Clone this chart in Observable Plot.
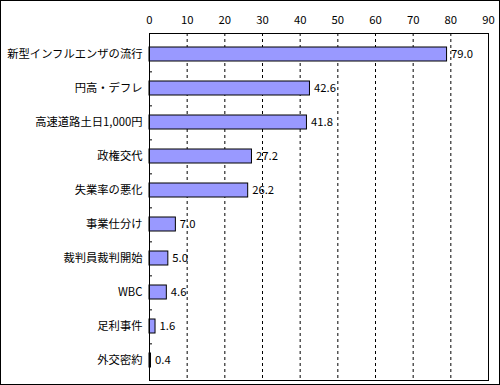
<!DOCTYPE html>
<html>
<head>
<meta charset="utf-8">
<script src="https://cdn.jsdelivr.net/npm/d3@7"></script>
<script src="https://cdn.jsdelivr.net/npm/@observablehq/plot@0.6"></script>
<style>
  body { margin: 0; background: #fff; }
  #chart svg { display: block; outline: 1px solid #000; outline-offset: -1px; box-shadow: inset -1px -1px 0 #000; }
</style>
</head>
<body>
<div id="chart"></div>
<script>
const categories = ["新型インフルエンザの流行", "円高・デフレ", "高速道路土日1,000円", "政権交代", "失業率の悪化", "事業仕分け", "裁判員裁判開始", "WBC", "足利事件", "外交密約"];
const values = [79.0, 42.6, 41.8, 27.2, 26.2, 7.0, 5.0, 4.6, 1.6, 0.4];
const xTicks = [0, 10, 20, 30, 40, 50, 60, 70, 80, 90];
const gridLines = [10, 20, 30, 40, 50, 60, 70, 80];

const data = categories.map((c, i) => ({category: c, value: values[i]}));

const chart = Plot.plot({
  width: 500,
  height: 385,
  marginLeft: 149,
  marginRight: 12,
  marginTop: 33,
  marginBottom: 5,
  style: {fontFamily: "'Noto Sans CJK JP', sans-serif", fontSize: "11.3px", color: "#000", background: "#fff"},
  x: {domain: [0, 90], ticks: xTicks, axis: "top", tickSize: 0, tickPadding: 10, label: null},
  y: {domain: categories, paddingInner: 0.6, paddingOuter: 0.3, tickSize: 0, tickPadding: 7, label: null},
  marks: [
    Plot.ruleX(gridLines, {stroke: "#000", strokeDasharray: "3,3", strokeWidth: 1}),
    Plot.ruleY(categories.slice(0, -1), {y: d => d, x1: 0, x2: 0.8, dy: 17.35, stroke: "#000"}),
    Plot.barX(data, {y: "category", x: "value", fill: "#9999ff", stroke: "#000", strokeWidth: 1}),
    Plot.text(data, {y: "category", x: "value", text: d => d.value.toFixed(1), textAnchor: "start", dx: 4, fill: "#000"}),
    Plot.frame({stroke: "#000"})
  ]
});
document.getElementById("chart").appendChild(chart);
</script>
</body>
</html>
